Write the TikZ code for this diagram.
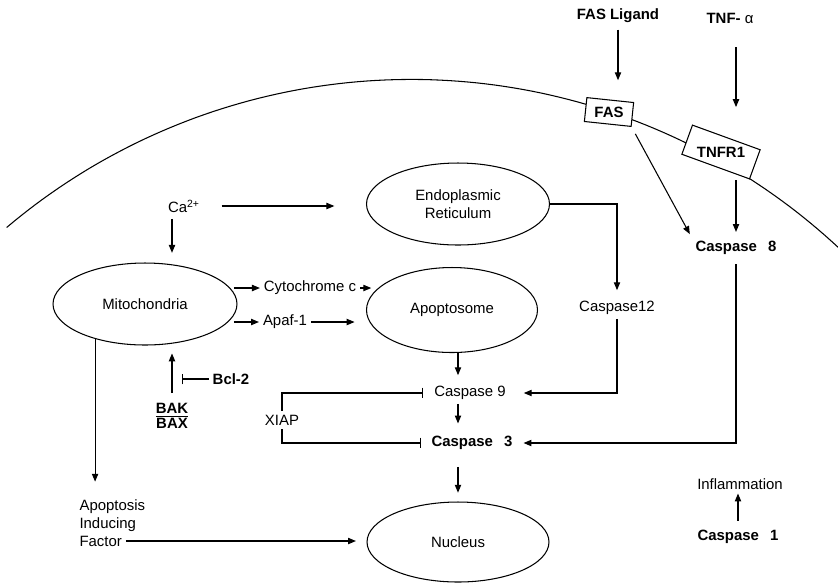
\documentclass[tikz,border=0pt]{standalone}
\usepackage{fontspec}
\setmainfont{Liberation Sans}
\usetikzlibrary{arrows.meta, shapes.geometric}

\begin{document}
\fontsize{8.5}{10}\selectfont
\begin{tikzpicture}[x=0.02cm, y=-0.02cm, line width=0.6pt,
		arr/.style={-{Triangle[length=4.5pt, width=3.6pt]}},
		inh/.style={-{Bar[width=6pt]}},
		organelle/.style={draw, ellipse, inner sep=0pt},
		receptor/.style={draw, fill=white, font=\bfseries, inner sep=0pt},
		every node/.style={inner sep=2pt}]
	   \useasboundingbox (0, 0) rectangle (838, 583);
	   % cell membrane
	   \draw [domain=47:130.2, samples=100] plot ({411.2+626.8*cos(\x)}, {706.2-626.8*sin(\x)});
	   \node [font=\bfseries] (fasl) at (618, 16) {FAS Ligand};
	   \node [font=\bfseries] (tnfa) at (730, 18) {TNF- \mdseries α};
	   % boxes sit on the membrane, their labels stay level
	   \node [receptor, rotate=-6, minimum width=0.94cm, minimum height=0.48cm] (fas) at (609, 112) {\rotatebox{6}{FAS}};
	   \node [receptor, rotate=-20, minimum width=1.44cm, minimum height=0.62cm] (tnfr) at (721, 152) {\rotatebox{20}{TNFR1}};
	   \node [font=\bfseries] (casp8) at (736, 248) {Caspase\hspace{.75em}8};
	   % organelles
	   \node [organelle, minimum width=3.66cm, minimum height=1.64cm, align=center] (er) at (458, 204) {Endoplasmic\\Reticulum};
	   \node [organelle, minimum width=3.68cm, minimum height=1.64cm] (mito) at (145, 304) {Mitochondria};
	   \node [organelle, minimum width=3.42cm, minimum height=1.70cm] (apo) at (452, 310) {Apoptosome};
	   \node [organelle, minimum width=3.64cm, minimum height=1.60cm] (nucleus) at (458, 542) {Nucleus};
	   \node (ca) at (184, 206) {Ca\textsuperscript{2+}};
	   \node (cytc) at (310, 288) {Cytochrome c};
	   \node (apaf) at (285, 322) {Apaf-1};
	   \node (casp12) at (617, 308) {Caspase12};
	   \node (casp9) at (470, 393) {Caspase 9};
	   \node [font=\bfseries] (casp3) at (472, 443) {Caspase\hspace{.75em}3};
	   \node (xiap) at (282, 420) {XIAP};
	   \node [font=\bfseries\fontsize{8.5}{8.5}\selectfont, align=center] (bak) at (172, 416) {\underline{BAK}\\BAX};
	   \node [font=\bfseries] (bcl) at (231, 379) {Bcl-2};
	   \node [anchor=west, align=left] (aif) at (75.5, 515.5) {Apoptosis\\Inducing};
	   \node [anchor=west] (aiff) at (75.5, 541) {Factor};
	   \node (infl) at (740, 484) {Inflammation};
	   \node [font=\bfseries] (casp1) at (738, 537) {Caspase\hspace{.75em}1};
	   % receptor side
	   \draw [arr, shorten <=1.5pt, shorten >=11pt] (fasl.south) -- (fasl.south |- fas.north);
	   \draw [arr, shorten <=11.5pt, shorten >=17pt] (tnfa.south -| casp8) -- (casp8 |- tnfr.north);
	   \draw [arr, shorten <=4.5pt, shorten >=2pt] (fas.south east) -- (casp8.north west);
	   \draw [arr, shorten <=7.5pt, shorten >=3pt] (casp8 |- tnfr.south) -- (casp8.north);
	   \draw [arr, shorten <=3pt, shorten >=4pt] (casp8.south) |- (casp3.east);
	   % calcium and mitochondria
	   \draw [arr, shorten <=10pt, shorten >=18pt] (ca.east) -- (ca.east -| er.west);
	   \draw [arr, shorten <=1.5pt, shorten >=5.5pt] (ca.south -| bak) -- (bak |- mito.north);
	   \draw [arr, shorten <=3.5pt, shorten >=4.5pt] (bak.north) -- (bak |- mito.south);
	   \draw [inh, shorten >=5.5pt] (bcl.west) -- (bcl.west -| bak);
	   \draw [arr, shorten <=-2pt] (mito.east |- cytc) -- (cytc.west);
	   \draw [arr, shorten >=-3pt] (cytc.east) -- (cytc.east -| apo.west);
	   \draw [arr, shorten <=-2pt] (mito.east |- apaf) -- (apaf.west);
	   \draw [arr, shorten >=6.5pt] (apaf.east) -- (apaf.east -| apo.west);
	   % caspase cascade
	   \draw [arr, shorten >=4pt] (er.east) -| (casp12.north);
	   \draw [arr, shorten >=8pt] (casp12.south) |- (casp9.east);
	   \draw [arr, shorten >=4pt] (apo.south -| nucleus) -- (nucleus |- casp9.north);
	   \draw [arr, shorten >=5pt] (casp9.south -| nucleus) -- (nucleus |- casp3.north);
	   \draw [arr, shorten <=7.4pt, shorten >=5pt] (casp3.south -| nucleus) -- (nucleus.north);
	   \draw [inh, shorten >=4pt] (xiap.north) |- (casp9.west);
	   \draw [inh, shorten >=3.5pt] (xiap.south) |- (casp3.west);
	   % apoptosis inducing factor
	   \draw [arr, shorten >=8pt] (mito.215) -- (mito.215 |- aif.north);
	   \draw [arr, shorten >=6pt] (aiff.east) -- (aiff.east -| nucleus.west);
	   \draw [arr, shorten <=3pt] (casp1.north) -- (casp1.north |- infl.south);
\end{tikzpicture}
\end{document}
